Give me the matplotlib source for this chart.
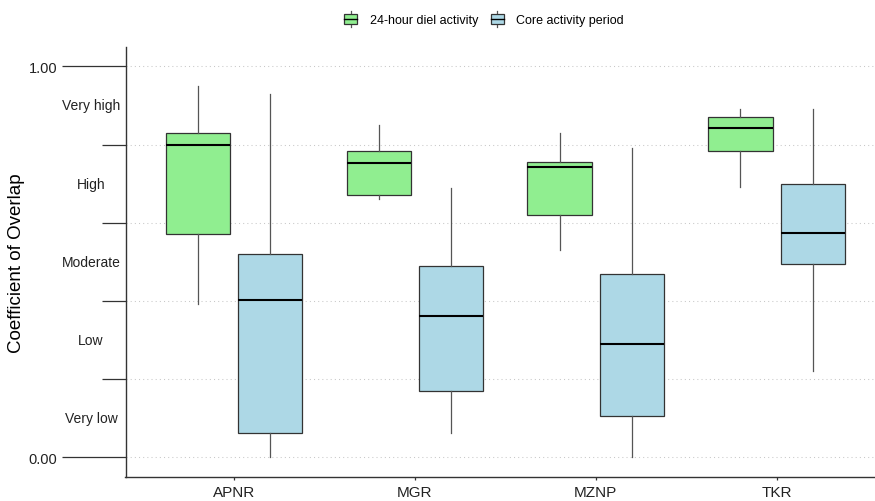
import matplotlib
matplotlib.use("Agg")
import matplotlib.pyplot as plt
import matplotlib.transforms as mtransforms
from matplotlib.patches import Rectangle
from matplotlib.lines import Line2D
from matplotlib.legend_handler import HandlerBase

plt.rcParams["font.family"] = ["Liberation Sans", "DejaVu Sans"]

# Sites on the x axis
sites = ["APNR", "MGR", "MZNP", "TKR"]

# Overlap coefficients, 24-hour diel activity
diel_whislo = [0.392, 0.661, 0.531, 0.692]
diel_q1 = [0.571, 0.670, 0.619, 0.784]
diel_med = [0.800, 0.752, 0.742, 0.841]
diel_q3 = [0.829, 0.783, 0.754, 0.870]
diel_whishi = [0.949, 0.850, 0.829, 0.891]

# Overlap coefficients, core activity period
core_whislo = [0.002, 0.062, 0.000, 0.222]
core_q1 = [0.061, 0.170, 0.106, 0.494]
core_med = [0.403, 0.361, 0.290, 0.573]
core_q3 = [0.520, 0.490, 0.469, 0.700]
core_whishi = [0.929, 0.690, 0.790, 0.891]

# Qualitative overlap bands
band_labels = ["Very low", "Low", "Moderate", "High", "Very high"]
band_centers = [0.1, 0.3, 0.5, 0.7, 0.9]
band_edges = [0.2, 0.4, 0.6, 0.8]

series_names = ["24-hour diel activity", "Core activity period"]
series_colors = ["#90EE90", "#ADD8E6"]

EDGE = "#333333"
WHISK = "#555555"


def make_stats(lo, q1, med, q3, hi):
    return [dict(whislo=a, q1=b, med=c, q3=d, whishi=e, fliers=[])
            for a, b, c, d, e in zip(lo, q1, med, q3, hi)]


class BoxHandler(HandlerBase):
    def create_artists(self, legend, orig_handle, xdescent, ydescent,
                       width, height, fontsize, trans):
        x0, y0 = -xdescent, -ydescent
        fc = orig_handle.get_facecolor()
        bh = height * 0.68
        by = y0 + (height - bh) / 2
        xm = x0 + width / 2
        wl = Line2D([xm, xm], [y0, by], color=WHISK, lw=0.9, transform=trans)
        wh = Line2D([xm, xm], [by + bh, y0 + height], color=WHISK, lw=0.9,
                    transform=trans)
        rect = Rectangle((x0, by), width, bh, facecolor=fc, edgecolor=EDGE,
                         lw=0.9, transform=trans)
        med = Line2D([x0, x0 + width], [y0 + height / 2] * 2, color="black",
                     lw=1.0, transform=trans)
        return [wl, wh, rect, med]


W, H = 875, 502
fig = plt.figure(figsize=(W / 100, H / 100), dpi=100)
ax = fig.add_axes([125.5 / W, 24.1 / H, 759.6 / W, 430.15 / H])

positions = list(range(1, len(sites) + 1))
offset = 0.2
box_w = 0.355

all_stats = [
    make_stats(diel_whislo, diel_q1, diel_med, diel_q3, diel_whishi),
    make_stats(core_whislo, core_q1, core_med, core_q3, core_whishi),
]
for k, (stats, color) in enumerate(zip(all_stats, series_colors)):
    pos = [p + (k - 0.5) * 2 * offset for p in positions]
    ax.bxp(stats, positions=pos, widths=box_w, patch_artist=True,
           showcaps=False, showfliers=False, manage_ticks=False,
           boxprops=dict(facecolor=color, edgecolor=EDGE, linewidth=0.9),
           medianprops=dict(color="black", linewidth=1.5),
           whiskerprops=dict(color=WHISK, linewidth=0.9),
           zorder=3)

ax.set_xlim(0.4, 4.6)
ax.set_ylim(-0.05, 1.05)

ax.set_xticks(positions)
ax.set_xticklabels(sites, fontsize=11, color="#222222")
ax.tick_params(axis="x", length=2.4, width=0.9, color=EDGE, pad=3.5)

ax.set_yticks([0, 1])
ax.set_yticklabels(["0.00", "1.00"], fontsize=10.5, color="#222222")
ax.set_yticks(band_edges, minor=True)
ax.tick_params(axis="y", which="major", length=45.9, width=0.9, color=EDGE, pad=3)
ax.tick_params(axis="y", which="minor", length=17.3, width=0.9, color=EDGE)

ax.grid(True, axis="y", which="both", color="#c8c8c8", linewidth=0.75,
        linestyle=(0, (1, 3)))
ax.set_axisbelow(True)

for s in ["top", "right"]:
    ax.spines[s].set_visible(False)
for s in ["left", "bottom"]:
    ax.spines[s].set_color(EDGE)
    ax.spines[s].set_linewidth(1.0)

# Band names between the tick marks
tr = mtransforms.blended_transform_factory(fig.transFigure, ax.transData)
for lab, yc in zip(band_labels, band_centers):
    ax.text(91 / W, yc, lab, transform=tr, ha="center", va="center",
            fontsize=10, color="#222222")

fig.text(16.7 / W, 1 - 262.8 / H, "Coefficient of Overlap", rotation=90,
         ha="center", va="center", fontsize=13.5, color="black")

handles = [Rectangle((0, 0), 1, 1, facecolor=c, edgecolor=EDGE)
           for c in series_colors]
fig.legend(handles, series_names, loc="center",
           bbox_to_anchor=(484 / W, 1 - 20 / H), ncol=2, frameon=False,
           fontsize=9, handler_map={Rectangle: BoxHandler()},
           handlelength=1.05, handleheight=1.6, handletextpad=1.0,
           columnspacing=1.0)

fig.savefig("out.png", dpi=100)
